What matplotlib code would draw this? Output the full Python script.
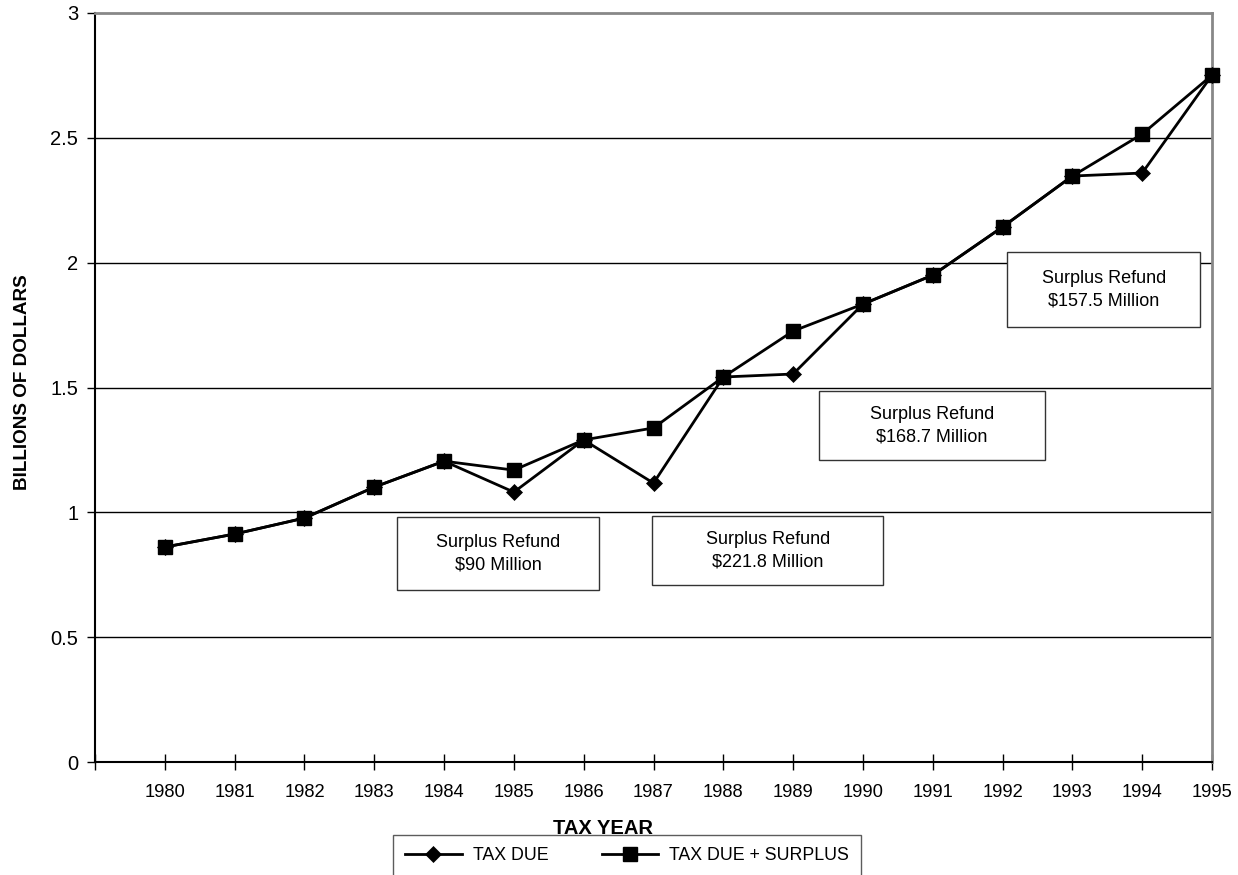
import matplotlib
matplotlib.use("Agg")
import matplotlib.pyplot as plt
from matplotlib.patches import Rectangle
from matplotlib.lines import Line2D

plt.rcParams['font.family'] = ['Liberation Sans', 'DejaVu Sans']

years = list(range(1980, 1996))
tax_due = [0.861, 0.913, 0.977, 1.101, 1.205, 1.081, 1.290, 1.117, 1.542, 1.554,
           1.834, 1.950, 2.143, 2.347, 2.359, 2.751]
tax_due_surplus = [0.861, 0.913, 0.977, 1.101, 1.205, 1.169, 1.290, 1.338, 1.542, 1.726,
                   1.834, 1.950, 2.143, 2.347, 2.515, 2.751]
y_ticks = [0, 0.5, 1, 1.5, 2, 2.5, 3]
y_tick_labels = ['0', '0.5', '1', '1.5', '2', '2.5', '3']
notes = ['Surplus Refund\n$90 Million', 'Surplus Refund\n$221.8 Million',
         'Surplus Refund\n$168.7 Million', 'Surplus Refund\n$157.5 Million']
# box extents (x0, x1, y0, y1) in data units
note_boxes = [(1983.33, 1986.22, 0.689, 0.981),
              (1986.98, 1990.29, 0.709, 0.985),
              (1989.37, 1992.61, 1.209, 1.486),
              (1992.07, 1994.83, 1.742, 2.042)]

fig = plt.figure(figsize=(12.38, 8.75), dpi=100)
ax = fig.add_axes([95/1238, 1-762/875, (1212-95)/1238, (762-13)/875])

ax.set_xlim(1979, 1995)
ax.set_ylim(0, 3)

for y in y_ticks[1:-1]:
    ax.axhline(y, color='black', lw=1.0, zorder=1)

ax.plot(years, tax_due, color='black', lw=2, marker='D', markersize=8.3,
        markeredgewidth=0.5, zorder=4, clip_on=False)
ax.plot(years, tax_due_surplus, color='black', lw=2, marker='s', markersize=10.5,
        zorder=5, clip_on=False)

for (x0, x1, y0, y1), txt in zip(note_boxes, notes):
    ax.add_patch(Rectangle((x0, y0), x1-x0, y1-y0, facecolor='white',
                           edgecolor='#333333', lw=1.0, zorder=3))
    ax.text((x0+x1)/2, (y0+y1)/2, txt, ha='center', va='center', fontsize=13,
            linespacing=1.4, zorder=6)

ax.set_yticks(y_ticks)
ax.set_yticklabels(y_tick_labels, fontsize=14.5)
ax.set_xticks(list(range(1979, 1996)))
ax.set_xticklabels([''] + [str(y) for y in years], fontsize=13.2)
ax.tick_params(axis='x', direction='inout', length=11, width=1, pad=10)
ax.tick_params(axis='y', direction='out', length=6, width=1, pad=6)

for s in ['left', 'bottom']:
    ax.spines[s].set_color('black')
    ax.spines[s].set_linewidth(1.5)
for s in ['top', 'right']:
    ax.spines[s].set_color('#888888')
    ax.spines[s].set_linewidth(2)

fig.text(23/1238, 1-382/875, 'BILLIONS OF DOLLARS', rotation=90, ha='center',
         va='center', fontsize=13.6, fontweight='bold')
fig.text(603/1238, 1-829/875, 'TAX YEAR', ha='center', va='center',
         fontsize=14.5, fontweight='bold')

handles = [Line2D([], [], color='black', lw=2, marker='D', markersize=8.3,
                  markeredgewidth=0.5),
           Line2D([], [], color='black', lw=2, marker='s', markersize=10.5)]
leg = fig.legend(handles, ['TAX DUE', 'TAX DUE + SURPLUS'], ncol=2,
                 loc='center', bbox_to_anchor=(627/1238, 1-856/875),
                 frameon=True, fancybox=False, fontsize=12.8,
                 handlelength=3.2, columnspacing=3.0, handletextpad=0.6,
                 borderpad=0.7)
leg.get_frame().set_edgecolor('#333333')
leg.get_frame().set_linewidth(1.0)

fig.savefig('out.png', dpi=100)
